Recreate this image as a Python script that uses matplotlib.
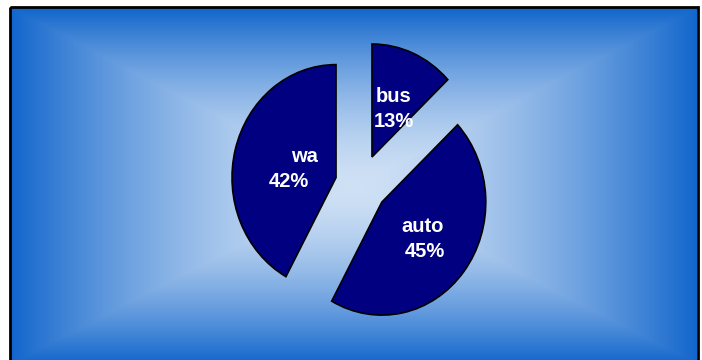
import numpy as np
import matplotlib
matplotlib.use("Agg")
import matplotlib.pyplot as plt
from matplotlib.patches import Rectangle

# ---- data ----
categories = ["bus", "auto", "wa"]
shares = [13, 45, 42]
pct_labels = ["13%", "45%", "42%"]
explode = [0.266, 0.253, 0.248]

# ---- style / layout ----
W, H = 702, 360
fig = plt.figure(figsize=(W / 100, H / 100), dpi=100)
fig.patch.set_facecolor("white")

# background: rectangular "from centre" gradient
bg = fig.add_axes([0, 0, 1, 1])
bg.set_xlim(0, W)
bg.set_ylim(H, 0)
bg.axis("off")
x0, x1, y0, y1 = 11, 697, 8, 364
nx, ny = 700, 360
xs = np.linspace(-1, 1, nx)
ys = np.linspace(-1, 1, ny)
XX, YY = np.meshgrid(xs, ys)
t = np.maximum(np.abs(XX), np.abs(YY))
t = np.clip(t, 0, 1) ** 1.6
c_center = np.array([0.81, 0.88, 0.96])
c_edge = np.array([0.07, 0.40, 0.80])
img = c_center[None, None, :] * (1 - t[..., None]) + c_edge[None, None, :] * t[..., None]
bg.imshow(img, extent=(x0, x1, y1, y0), origin="upper", aspect="auto",
          interpolation="bilinear", zorder=0)
bg.add_patch(Rectangle((10, 7), 688, 370, fill=False, ec="black", lw=2, zorder=2))

# pie axes (pie drawn stretched to an ellipse)
ax = fig.add_axes([205 / W, 5.9 / H, 312 / W, 339 / H])
ax.patch.set_alpha(0)
wedges, _ = ax.pie(shares, explode=explode, startangle=90, counterclock=False,
                   colors=["#000080"] * len(shares),
                   wedgeprops=dict(edgecolor="black", linewidth=1.2))
ax.set_aspect("auto")
ax.set_xlim(-1.5, 1.5)
ax.set_ylim(-1.5, 1.5)
ax.axis("off")

# label positions (layout only)
name_pos = [(0.317, 0.731), (0.596, -0.419), (-0.548, 0.200)]
pct_pos = [(0.317, 0.510), (0.615, -0.641), (-0.692, -0.021)]
fam = ["Liberation Sans", "DejaVu Sans"]
for name, pct, (nx_, ny_), (px_, py_) in zip(categories, pct_labels, name_pos, pct_pos):
    ax.text(nx_, ny_, name, color="white", fontsize=14.5, fontweight="bold",
            family=fam, ha="center", va="baseline")
    ax.text(px_, py_, pct, color="white", fontsize=14.5, fontweight="bold",
            family=fam, ha="center", va="baseline")

fig.savefig("out.png", dpi=100)
